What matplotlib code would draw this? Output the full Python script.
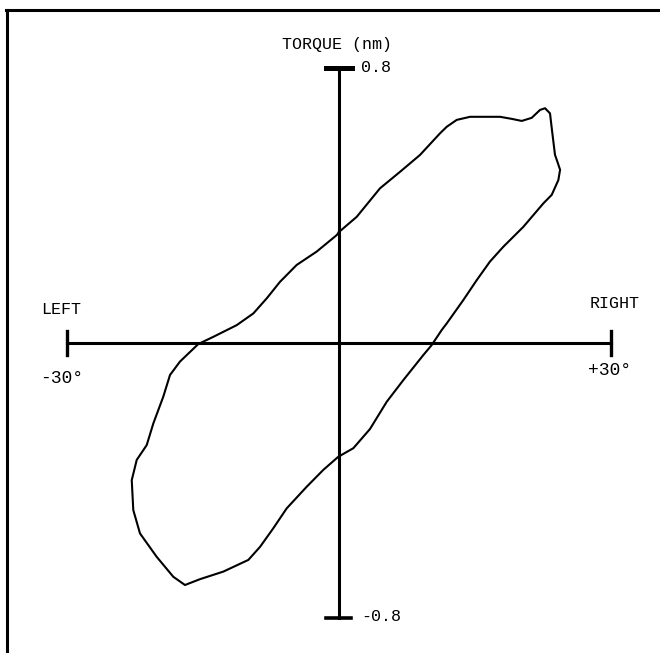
import matplotlib.pyplot as plt
from matplotlib.lines import Line2D
import numpy as np

# hysteresis loop, angle in degrees vs torque in nm
angle = [0.0, 1.95, 4.52, 6.73, 8.93, 11.14, 11.88, 12.98, 14.45, 17.76,
         19.05, 20.15, 21.25, 22.17, 22.72, 23.27, 23.46, 23.82, 24.01, 24.38,
         24.19, 23.46, 22.53, 20.33, 18.12, 16.65, 15.19, 13.71, 11.88, 11.33,
         10.22, 9.30, 7.09, 5.26, 3.42, 1.58, -0.08, -1.73, -3.56, -5.77,
         -7.25, -8.71, -10.00, -12.76, -15.33, -16.99, -18.28, -20.11, -21.95, -22.69,
         -22.86, -22.31, -21.21, -20.48, -19.38, -18.64, -17.54, -15.52, -13.86, -11.28,
         -9.45, -7.97, -6.51, -4.67, -2.46, -0.25]
torque = [0.323, 0.367, 0.450, 0.498, 0.547, 0.610, 0.629, 0.649, 0.658, 0.658,
          0.652, 0.646, 0.655, 0.678, 0.683, 0.668, 0.625, 0.547, 0.533, 0.504,
          0.474, 0.431, 0.406, 0.338, 0.280, 0.237, 0.183, 0.125, 0.057, 0.038,
          -0.006, -0.035, -0.108, -0.171, -0.250, -0.306, -0.331, -0.369, -0.418, -0.481,
          -0.539, -0.593, -0.631, -0.665, -0.687, -0.704, -0.680, -0.622, -0.554, -0.486,
          -0.399, -0.340, -0.297, -0.234, -0.156, -0.093, -0.054, -0.003, 0.018, 0.052,
          0.086, 0.130, 0.178, 0.227, 0.266, 0.314]

x_range = [-30, 30]
y_range = [-0.8, 0.8]
x_labels = ['-30°', '+30°']
y_labels = ['-0.8', '0.8']

mono = ['Liberation Mono', 'DejaVu Sans Mono']

fig = plt.figure(figsize=(6.6, 6.53), dpi=100)
ax = fig.add_axes([0, 0, 1, 1])
ax.set_xlim(-37.39, 35.40)
ax.set_ylim(-0.9018, 0.9978)
ax.axis('off')

# frame (only top and left edges survive in the scan)
fig.add_artist(Line2D([0.009, 1.0], [0.984, 0.984], color='black', linewidth=2.2))
fig.add_artist(Line2D([0.011, 0.011], [0.0, 0.984], color='black', linewidth=2.2))

# axes cross
ax.plot(x_range, [0, 0], color='black', linewidth=2.2)
ax.plot([0, 0], y_range, color='black', linewidth=2.2)
for xv in x_range:
    ax.plot([xv, xv], [-0.035, 0.035], color='black', linewidth=2.4)
ax.plot([-1.4, 1.4], [0.8, 0.8], color='black', linewidth=3.6)
ax.plot([-1.4, 1.3], [-0.8, -0.8], color='black', linewidth=2.6)

# loop
ax.plot(angle + angle[:1], torque + torque[:1], color='black', linewidth=1.5,
        solid_joinstyle='round')

ax.text(-0.2, 0.867, 'TORQUE (nm)', family=mono, fontsize=12,
        ha='center', va='center')
ax.text(2.4, y_range[1], y_labels[1], family=mono, fontsize=12, ha='left', va='center')
ax.text(2.4, y_range[0] + 0.003, y_labels[0], family=mono, fontsize=12, ha='left', va='center')
ax.text(-30.6, 0.096, 'LEFT', family=mono, fontsize=12, ha='center', va='center')
ax.text(-30.6, -0.102, x_labels[0], family=mono, fontsize=13, ha='center', va='center')
ax.text(30.4, 0.116, 'RIGHT', family=mono, fontsize=12, ha='center', va='center')
ax.text(29.8, -0.079, x_labels[1], family=mono, fontsize=13, ha='center', va='center')

fig.savefig('out.png', dpi=100, facecolor='white')
